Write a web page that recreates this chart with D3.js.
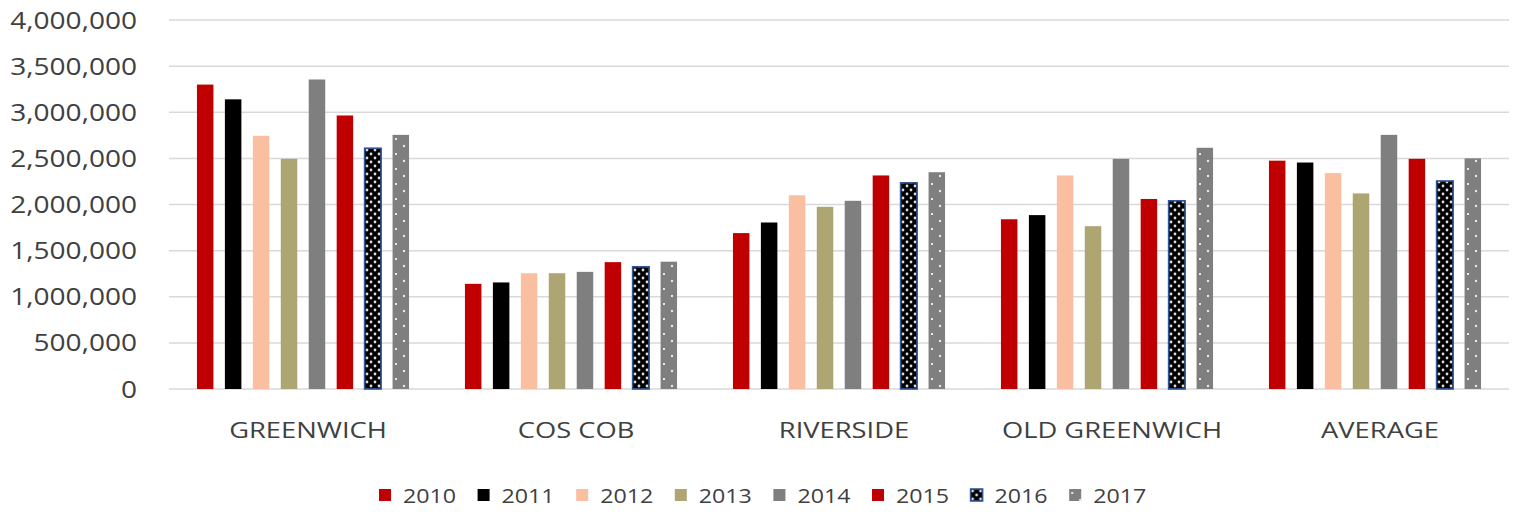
<!DOCTYPE html>
<html>
<head>
<meta charset="utf-8">
<script src="https://cdn.jsdelivr.net/npm/d3@7"></script>
<style>
  body { margin: 0; background: #fff; }
  svg { display: block; }
</style>
</head>
<body>
<svg id="chart" width="1519" height="512"></svg>
<script>
const categories = ["GREENWICH", "COS COB", "RIVERSIDE", "OLD GREENWICH", "AVERAGE"];
const years = ["2010", "2011", "2012", "2013", "2014", "2015", "2016", "2017"];
const yTicks = [0, 500000, 1000000, 1500000, 2000000, 2500000, 3000000, 3500000, 4000000];

// one array per year, in category order
const v2010 = [3300000, 1140000, 1690000, 1840000, 2475000];
const v2011 = [3140000, 1155000, 1805000, 1885000, 2455000];
const v2012 = [2745000, 1255000, 2100000, 2315000, 2340000];
const v2013 = [2495000, 1255000, 1975000, 1765000, 2120000];
const v2014 = [3355000, 1270000, 2040000, 2495000, 2755000];
const v2015 = [2965000, 1375000, 2315000, 2060000, 2495000];
const v2016 = [2610000, 1325000, 2235000, 2040000, 2255000];
const v2017 = [2755000, 1380000, 2350000, 2615000, 2500000];
const seriesValues = [v2010, v2011, v2012, v2013, v2014, v2015, v2016, v2017];

const svg = d3.select("#chart");
const plotLeft = 169, plotRight = 1509, plotTop = 20, plotBottom = 389;
const textColor = "#404040";
const font = "'Open Sans', sans-serif";
const sx = 1.22; // glyphs in the reference are wide

// fills
const defs = svg.append("defs");
const dots = defs.append("pattern")
    .attr("id", "dots16")
    .attr("patternUnits", "userSpaceOnUse")
    .attr("width", 8).attr("height", 8);
dots.append("rect").attr("width", 8).attr("height", 8).attr("fill", "#000");
dots.append("circle").attr("cx", 2).attr("cy", 2).attr("r", 1.4).attr("fill", "#dcdcdc");
dots.append("circle").attr("cx", 6).attr("cy", 6).attr("r", 1.4).attr("fill", "#dcdcdc");

const sparse = defs.append("pattern")
    .attr("id", "dots17")
    .attr("patternUnits", "userSpaceOnUse")
    .attr("width", 16).attr("height", 15);
sparse.append("rect").attr("width", 16).attr("height", 15).attr("fill", "#7f7f7f");
sparse.append("rect").attr("x", 2).attr("y", 3).attr("width", 2).attr("height", 2).attr("fill", "#e8e8e8");
sparse.append("circle").attr("cx", 11).attr("cy", 11).attr("r", 1.2).attr("fill", "#e8e8e8");

const fills = ["#c00000", "#000000", "#fabfa1", "#ada572", "#7f7f7f", "#c00000", "url(#dots16)", "url(#dots17)"];
const strokes = [null, null, null, null, null, null, "#2f5597", null];

const x0 = d3.scaleBand().domain(categories).range([plotLeft, plotRight]).padding(0);
const x1 = d3.scaleBand().domain(years).range([0, x0.bandwidth()])
    .paddingInner(0.41).paddingOuter(1.0);
const y = d3.scaleLinear().domain([0, 4000000]).range([plotBottom, plotTop]);

// gridlines
svg.append("g")
    .selectAll("line")
    .data(yTicks)
    .enter().append("line")
    .attr("x1", plotLeft).attr("x2", plotRight)
    .attr("y1", d => y(d)).attr("y2", d => y(d))
    .attr("stroke", "#d9d9d9")
    .attr("stroke-width", 1.5);

// y axis labels
const yAxis = svg.append("g")
    .attr("transform", "translate(" + plotLeft + ",0)")
    .call(d3.axisLeft(y).tickValues(yTicks).tickSize(0).tickFormat(d3.format(",")));
yAxis.select(".domain").remove();
yAxis.selectAll("text")
    .attr("x", 0).attr("dy", "0.35em")
    .attr("transform", "translate(-32,0) scale(" + sx + ",1)")
    .style("font-family", font)
    .style("font-size", "23px")
    .style("fill", textColor);

// bars
const groups = svg.append("g")
    .selectAll("g")
    .data(categories)
    .enter().append("g")
    .attr("transform", d => "translate(" + x0(d) + ",0)");

groups.selectAll("rect")
    .data((c, ci) => years.map((yr, i) => ({year: yr, i: i, value: seriesValues[i][ci]})))
    .enter().append("rect")
    .attr("x", d => x1(d.year))
    .attr("y", d => y(d.value))
    .attr("width", x1.bandwidth())
    .attr("height", d => plotBottom - y(d.value))
    .attr("fill", d => fills[d.i])
    .attr("stroke", d => strokes[d.i] || "none")
    .attr("stroke-width", 1.6);

// x axis
const xAxis = svg.append("g")
    .attr("transform", "translate(0," + plotBottom + ")")
    .call(d3.axisBottom(x0).tickSize(0));
xAxis.select(".domain").remove();
xAxis.selectAll("text")
    .attr("y", 0).attr("dy", 0)
    .attr("transform", "translate(5,49) scale(1.27,1)")
    .style("font-family", font)
    .style("font-size", "21.5px")
    .style("fill", textColor);

// legend
const legend = svg.append("g")
    .selectAll("g")
    .data(years)
    .enter().append("g")
    .attr("transform", (d, i) => "translate(" + (379 + i * 98.6) + ",489)");

legend.append("rect")
    .attr("width", 12).attr("height", 12)
    .attr("fill", (d, i) => fills[i])
    .attr("stroke", (d, i) => strokes[i] || "none")
    .attr("stroke-width", 1.6);

legend.append("text")
    .attr("transform", "translate(24,14) scale(1.16,1)")
    .style("font-family", font)
    .style("font-size", "20px")
    .style("fill", textColor)
    .text(d => d);
</script>
</body>
</html>
